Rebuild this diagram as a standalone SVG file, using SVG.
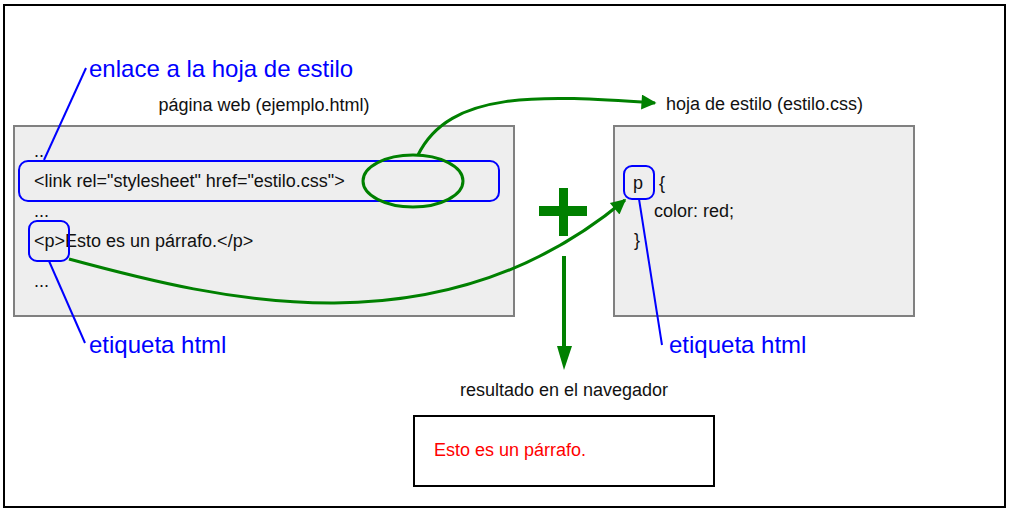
<svg xmlns="http://www.w3.org/2000/svg" width="1010" height="512" viewBox="0 0 1010 512">
<style>
text{font-family:"Liberation Sans",Arial,sans-serif;font-size:18px;fill:#111}
.lbl{font-size:24px;fill:#0000ff}
.box{fill:#eeeeee;stroke:#808080;stroke-width:2}
.hl{fill:none;stroke:#0000ff;stroke-width:2}
.gl{fill:none;stroke:#008000;stroke-width:3}
.bl{stroke:#0000ff;stroke-width:2}
</style>
<defs>
<marker id="ga" viewBox="0 0 10 10" refX="9" refY="5" markerWidth="6" markerHeight="5" orient="auto" markerUnits="strokeWidth">
<path d="M0,0 L10,5 L0,10 z" fill="#008000"/>
</marker>
</defs>
<rect x="4" y="5" width="1001" height="502" fill="#ffffff" stroke="#000" stroke-width="2"/>
<g id="web">
<text x="264" y="111" text-anchor="middle">página web (ejemplo.html)</text>
<rect class="box" x="14" y="126" width="500" height="190"/>
<text x="34" y="157">..</text>
<text x="34" y="187">&lt;link rel="stylesheet" href="estilo.css"&gt;</text>
<text x="34" y="217">...</text>
<text x="34" y="247">&lt;p&gt;Esto es un párrafo.&lt;/p&gt;</text>
<text x="34" y="287">...</text>
<rect class="hl" x="19" y="161" width="480" height="40" rx="9"/>
<rect class="hl" x="29" y="221" width="40" height="40" rx="8"/>
</g>
<g id="css">
<text x="666" y="110">hoja de estilo (estilo.css)</text>
<rect class="box" x="614" y="126" width="300" height="190"/>
<text x="633" y="189">p</text>
<text x="659" y="189">{</text>
<text x="654" y="217">color: red;</text>
<text x="634" y="246">}</text>
<rect class="hl" x="624" y="166" width="30" height="33" rx="8"/>
</g>
<g id="result">
<text x="564" y="396" text-anchor="middle">resultado en el navegador</text>
<rect x="414" y="416" width="300" height="70" fill="#fff" stroke="#000" stroke-width="2"/>
<text x="434" y="456" style="fill:#ff0000">Esto es un párrafo.</text>
</g>
<g id="plus" fill="#008000">
<rect x="559" y="188" width="9" height="48"/>
<rect x="539" y="206" width="48" height="10"/>
</g>
<g id="labels">
<text class="lbl" x="89" y="77">enlace a la hoja de estilo</text>
<text class="lbl" x="89" y="353">etiqueta html</text>
<text class="lbl" x="669" y="353">etiqueta html</text>
</g>
<g id="connectors">
<ellipse cx="413" cy="181" rx="50" ry="26" fill="none" stroke="#008000" stroke-width="3"/>
<path class="gl" d="M418,155 C450,90 540,95 655,103" marker-end="url(#ga)"/>
<path class="gl" d="M69,259 C220,300 440,355 625,200" marker-end="url(#ga)"/>
<line x1="564" y1="256" x2="564" y2="348" stroke="#008000" stroke-width="4"/>
<path d="M557,346 L572,346 L564,370 z" fill="#008000"/>
<line class="bl" x1="44" y1="160" x2="86" y2="68"/>
<line class="bl" x1="49" y1="261" x2="85" y2="343"/>
<line class="bl" x1="639" y1="199" x2="662" y2="345"/>
</g>
</svg>
